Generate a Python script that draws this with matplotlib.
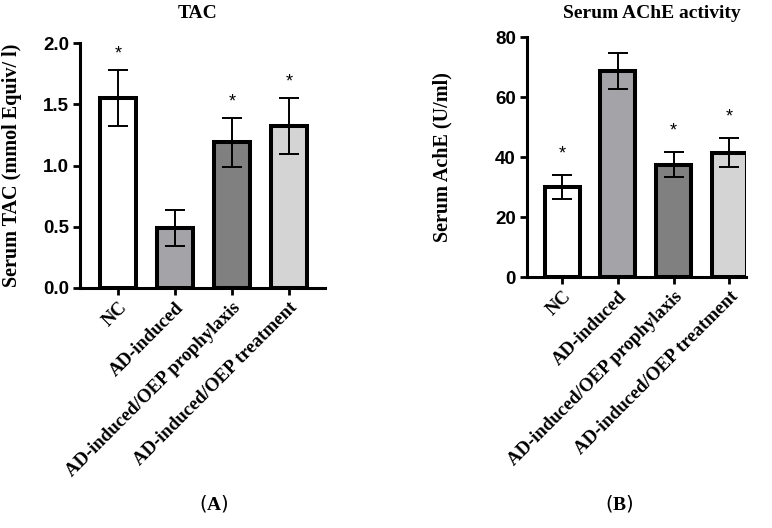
import numpy as np
import matplotlib.pyplot as plt

groups = ['NC', 'AD-induced', 'AD-induced/OEP prophylaxis', 'AD-induced/OEP treatment']
bar_colors = ['#ffffff', '#a4a4a8', '#808080', '#d4d4d4']

tac_mean = [1.55, 0.49, 1.19, 1.32]
tac_err = [0.23, 0.15, 0.20, 0.23]
tac_star = [True, False, True, True]

ache_mean = [30.0, 68.5, 37.5, 41.5]
ache_err = [4.0, 6.0, 4.2, 4.8]
ache_star = [True, False, True, True]

W, H = 772, 528
serif = ['Liberation Serif', 'DejaVu Serif']
sans = ['Liberation Sans', 'DejaVu Sans']

plt.rcParams['mathtext.fontset'] = 'custom'
plt.rcParams['mathtext.rm'] = 'Liberation Serif'
plt.rcParams['mathtext.bf'] = 'Liberation Serif:bold'


def px_axes(fig, x0, x1, ytop, ybot):
    return fig.add_axes([x0 / W, 1 - ybot / H, (x1 - x0) / W, (ybot - ytop) / H])


def draw_panel(ax, means, errs, stars, ylim, yticks, ylabel, star_off, xlim, fmt):
    x = np.arange(len(means))
    ax.bar(x, means, width=0.63, color=bar_colors, edgecolor='black', linewidth=2.9, zorder=2)
    ax.errorbar(x, means, yerr=errs, fmt='none', ecolor='black', elinewidth=1.4,
                capsize=7, capthick=1.4, zorder=3)
    for xi, m, e, s in zip(x, means, errs, stars):
        if s:
            ax.text(xi, m + e + star_off, '*', ha='center', va='center',
                    fontsize=13, family=sans)
    ax.set_xlim(*xlim)
    ax.set_ylim(*ylim)
    ax.set_yticks(yticks)
    ax.set_yticklabels([fmt.format(v) for v in yticks], family=sans, fontweight='bold', fontsize=13.5)
    ax.set_xticks(x)
    ax.set_xticklabels(groups, rotation=45, ha='right', rotation_mode='anchor',
                       family=serif, fontweight='bold', fontsize=13.5)
    ax.set_ylabel(ylabel, family=serif, fontweight='bold', fontsize=14.5)
    for sp in ['top', 'right']:
        ax.spines[sp].set_visible(False)
    for sp in ['left', 'bottom']:
        ax.spines[sp].set_linewidth(2.2)
    ax.tick_params(axis='both', width=2.0, length=5, direction='out', pad=3)


fig = plt.figure(figsize=(W / 100, H / 100), dpi=100)
fig.patch.set_facecolor('white')

ax1 = px_axes(fig, 80, 325, 43, 288)
draw_panel(ax1, tac_mean, tac_err, tac_star, (0, 2.0), [0.0, 0.5, 1.0, 1.5, 2.0],
           'Serum TAC (mmol Equiv/ l)', 0.13, (-0.67, 3.63), '{:.1f}')
ax1.yaxis.set_label_coords((22 - 80) / 245, 0.5)

ax2 = px_axes(fig, 527, 746, 37, 277)
draw_panel(ax2, ache_mean, ache_err, ache_star, (0, 80), [0, 20, 40, 60, 80],
           'Serum AchE (U/ml)', 7.0, (-0.63, 3.3), '{:.0f}')
ax2.yaxis.set_label_coords((452 - 527) / 219, 0.5)

fig.text(198 / W, 1 - 13 / H, 'TAC', ha='center', va='center', family=serif,
         fontweight='bold', fontsize=14)
fig.text(652 / W, 1 - 13 / H, 'Serum AChE activity', ha='center', va='center', family=serif,
         fontweight='bold', fontsize=14)
fig.text(214 / W, 1 - 503 / H, '($\\mathbf{A}$)', ha='center', va='center', fontsize=14)
fig.text(619 / W, 1 - 503 / H, '($\\mathbf{B}$)', ha='center', va='center', fontsize=14)

fig.savefig('out.png', dpi=100)
